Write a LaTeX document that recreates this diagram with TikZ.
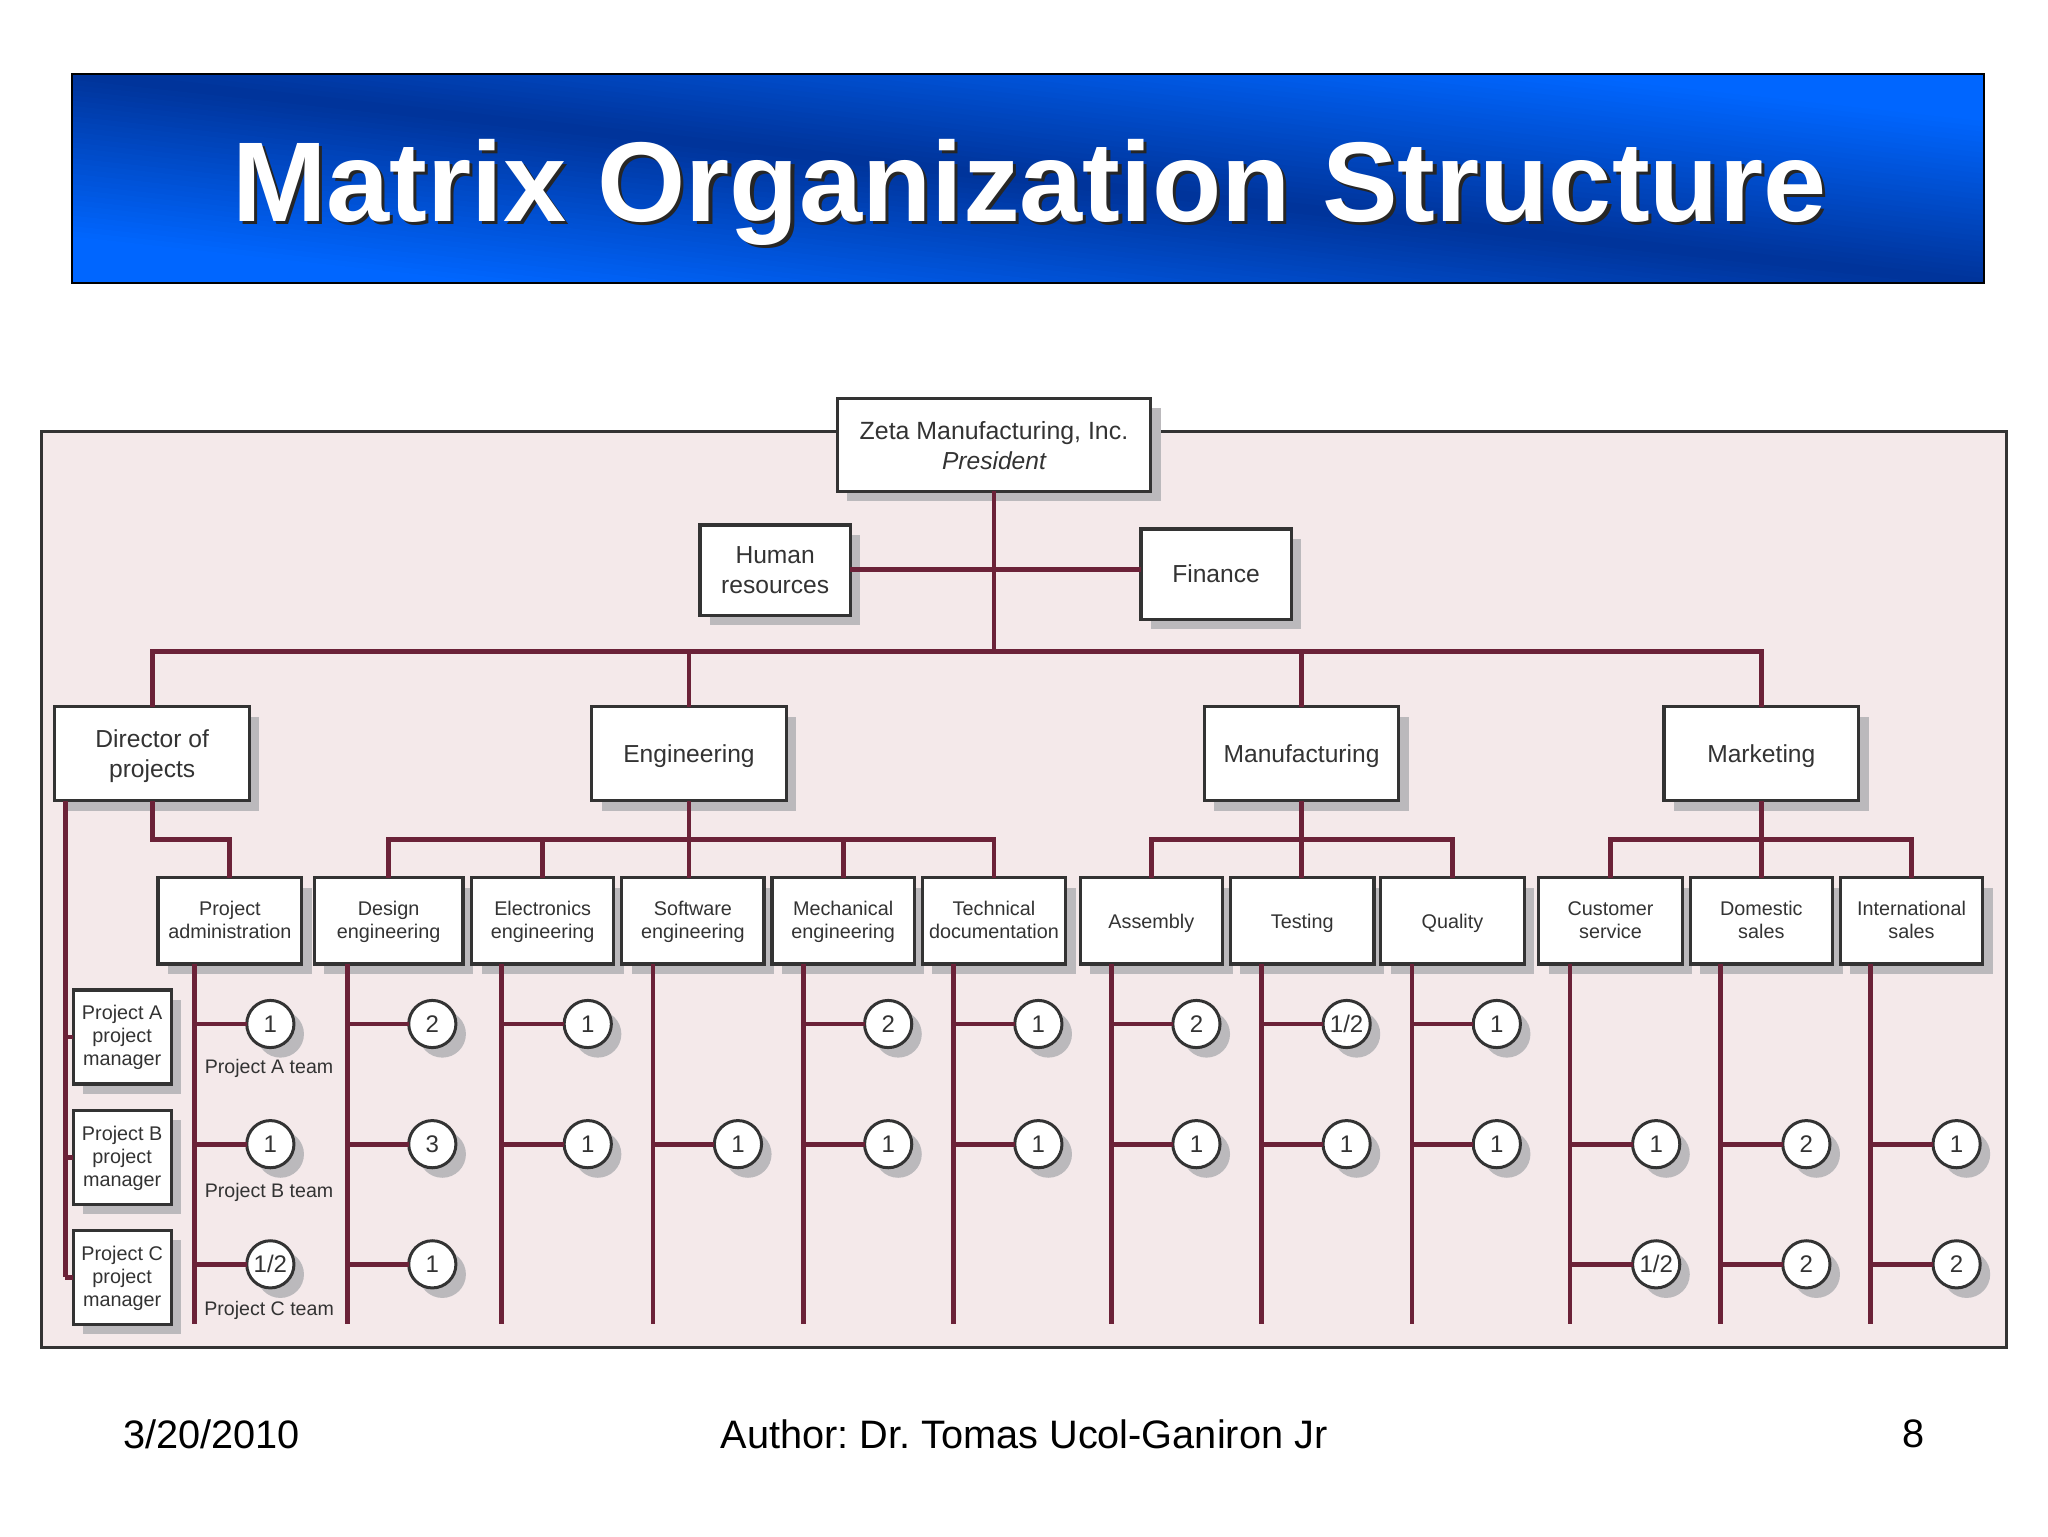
\documentclass[tikz,border=0pt]{standalone}
\usepackage{fontspec}
\setmainfont{Liberation Sans}
\frenchspacing
\usetikzlibrary{shadows,calc}
\definecolor{ln}{HTML}{333333}
\definecolor{tx}{HTML}{333333}
\definecolor{mar}{HTML}{6B2238}
\definecolor{shd}{HTML}{BBB9BC}
\definecolor{pane}{HTML}{F4E9EA}
\definecolor{bdark}{HTML}{003399}
\definecolor{bbright}{HTML}{0066FF}
\newcommand{\txh}{9pt}\newcommand{\txd}{2pt}
\newcommand{\fr}[1]{\rule{0pt}{#1pt}}
\tikzset{
 sh/.style={general shadow={shadow xshift=5pt,shadow yshift=-5pt,fill=shd,opacity=1}},
 box/.style={draw=ln,line width=1.6pt,fill=white,inner sep=0pt,outer sep=0pt,align=center,text=tx,sh,
   execute at begin node={\rule{0pt}{\txh}},execute at end node={\rule[-\txd]{0pt}{0pt}}},
 big/.style={box,font=\fontsize{12.3}{15}\selectfont\renewcommand{\txh}{11.2pt}\renewcommand{\txd}{2.8pt}},
 small/.style={box,font=\fontsize{9.9}{11.8}\selectfont\renewcommand{\txh}{9.9pt}\renewcommand{\txd}{2.2pt}},
 pm/.style={box,font=\fontsize{9.9}{11.5}\selectfont\renewcommand{\txh}{9.2pt}\renewcommand{\txd}{2.2pt}},
 crc/.style={circle,draw=ln,line width=1.5pt,fill=white,inner sep=0pt,outer sep=0pt,minimum size=23.6pt,text=tx,sh,font=\fontsize{12}{14}\selectfont},
 conn/.style={draw=mar,line width=2.4pt},
 team/.style={text=tx,inner sep=0pt,font=\fontsize{9.8}{12}\selectfont},
 foot/.style={text=black,inner sep=0pt,font=\fontsize{19.85}{24}\selectfont},
}
\newcommand{\bx}[7][big]{\node[#1,minimum width={(#5-#3)*0.65306pt},minimum height={(#6-#4)*0.65306pt}] (#2) at ({(#3+#5)/2},{(#4+#6)/2}) {#7};}
\newcommand{\crcl}[5]{\node[crc] (#1) at (#3,#4) {#5};\draw[conn] (#2 |- #1) -- (#1.west);}
\newcommand{\trunk}[3]{\coordinate (#1) at (#3,1014);\draw[conn] (#2.south -| #1) -- (#1);}
\begin{document}
\begin{tikzpicture}[x=0.65306pt,y=-0.65306pt]
\useasboundingbox (0,0) rectangle (1568,1176);
\fill[white] (0,0) rectangle (1568,1176);
% banner: diagonal gradient, dark along the top-left to bottom-right diagonal
\begin{scope}
\clip (55,57) rectangle (1519,217);
\foreach \i in {0,...,80}{
  \pgfmathsetmacro{\dd}{-160+4*\i}
  \pgfmathsetmacro{\pp}{min(100,abs(\dd+2)/125*100)}
  \fill[bbright!\pp!bdark] (55,57+\dd) -- (1519,217+\dd) -- (1519,800) -- (55,800) -- cycle;
}
\end{scope}
\draw[black,line width=1pt] (55,57) rectangle (1519,217);
\node[text=black!85,inner sep=0pt,font=\bfseries\fontsize{56.7}{60}\selectfont] (titleshadow) at (790.5,149.5) {Matrix Organization Structure};
\node[text=white,inner sep=0pt,font=\bfseries\fontsize{56.7}{60}\selectfont] (title) at (788,147) {Matrix Organization Structure};
% frame
\draw[ln,fill=pane,line width=1.5pt] (32,330) rectangle (1536,1032);
% top
\bx{pres}{641}{305}{881}{376}{\fr{12.2}\fontsize{12.45}{14.5}\selectfont Zeta Manufacturing, Inc.\\\itshape President}
\bx{hr}{536}{402}{651}{471}{\fr{11.5}Human\\resources}
\bx{fin}{873.5}{405}{988.5}{474}{Finance}
\bx{dir}{42}{541}{191}{613}{\fr{11.5}Director of\\projects}
\bx{eng}{453}{541}{602}{613}{Engineering}
\bx{man}{922}{541}{1071}{613}{Manufacturing}
\bx{mkt}{1274}{541}{1423}{613}{Marketing}
% third level
\bx[small]{pa}{121}{672}{231}{738}{\fr{8.5}Project\\administration}
\bx[small]{de}{240.5}{672}{354.5}{738}{\fr{8.5}Design\\engineering}
\bx[small]{el}{361}{672}{470}{738}{\fr{8.5}Electronics\\engineering}
\bx[small]{so}{476}{672}{585}{738}{\fr{8.5}Software\\engineering}
\bx[small]{me}{591}{672}{700}{738}{\fr{8.5}Mechanical\\engineering}
\bx[small]{te}{706}{672}{816}{738}{\fr{8.5}Technical\\documentation}
\bx[small]{as}{827}{672}{936}{738}{Assembly}
\bx[small]{ts}{942}{672}{1052}{738}{Testing}
\bx[small]{qu}{1057}{672}{1167}{738}{Quality}
\bx[small]{cu}{1178}{672}{1288}{738}{\fr{8.5}Customer\\service}
\bx[small]{dm}{1294}{672}{1403}{738}{\fr{8.5}Domestic\\sales}
\bx[small]{in}{1409}{672}{1518}{738}{\fr{8.5}International\\sales}
% project managers
\bx[pm]{pma}{56}{758}{131}{830}{\fr{8}Project A\\project\\manager}
\bx[pm]{pmb}{56}{850}{131}{922}{\fr{8}Project B\\project\\manager}
\bx[pm]{pmc}{56}{942}{131}{1014}{\fr{8}Project C\\project\\manager}
% top connectors
\coordinate (jct) at (761,436);
\coordinate (bus) at (761,499);
\draw[conn] (pres.south) -- (bus);
\draw[conn] (hr.east |- jct) -- (fin.west |- jct);
\draw[conn] (dir.north) |- (bus);
\draw[conn] (mkt.north) |- (bus);
\draw[conn] (eng.north) -- (eng.north |- bus);
\draw[conn] (man.north) -- (man.north |- bus);
% director
\coordinate (busd) at (116,643);
\coordinate (tpm) at (50,978);
\draw[conn] (dir.south) |- (pa.north |- busd) -- (pa.north);
\draw[conn] (dir.south -| tpm) -- (tpm);
\draw[conn] (tpm |- pma) -- (pma.west);
\draw[conn] (tpm |- pmb) -- (pmb.west);
\draw[conn] (tpm |- pmc) -- (pmc.west);
% engineering
\coordinate (buse) at (527.5,643);
\draw[conn] (eng.south) -- (buse);
\draw[conn] (de.north) |- (buse);
\draw[conn] (te.north) |- (buse);
\draw[conn] (el.north) -- (el.north |- buse);
\draw[conn] (me.north) -- (me.north |- buse);
\draw[conn] (buse) -- (buse |- so.north);
% manufacturing
\coordinate (busm) at (996.5,643);
\draw[conn] (man.south) -- (man.south |- ts.north);
\draw[conn] (as.north) |- (busm);
\draw[conn] (qu.north) |- (busm);
% marketing
\coordinate (busk) at (1348.5,643);
\draw[conn] (mkt.south) -- (dm.north);
\draw[conn] (cu.north) |- (busk);
\draw[conn] (in.north) |- (busk);
% trunks
\trunk{tpa}{pa}{149}
\trunk{tde}{de}{266}
\trunk{tel}{el}{384}
\trunk{tso}{so}{500}
\trunk{tme}{me}{615}
\trunk{tte}{te}{730}
\trunk{tas}{as}{851}
\trunk{tts}{ts}{966}
\trunk{tqu}{qu}{1081}
\trunk{tcu}{cu}{1202}
\trunk{tdm}{dm}{1317}
\trunk{tin}{in}{1432}
% circles
\crcl{a1}{tpa}{207}{784}{1}
\crcl{a2}{tpa}{207}{876}{1}
\crcl{a3}{tpa}{207}{968}{1/2}
\crcl{b1}{tde}{331}{784}{2}
\crcl{b2}{tde}{331}{876}{3}
\crcl{b3}{tde}{331}{968}{1}
\crcl{c1}{tel}{450}{784}{1}
\crcl{c2}{tel}{450}{876}{1}
\crcl{d2}{tso}{565}{876}{1}
\crcl{e1}{tme}{680}{784}{2}
\crcl{e2}{tme}{680}{876}{1}
\crcl{f1}{tte}{795}{784}{1}
\crcl{f2}{tte}{795}{876}{1}
\crcl{g1}{tas}{916}{784}{2}
\crcl{g2}{tas}{916}{876}{1}
\crcl{h1}{tts}{1031}{784}{1/2}
\crcl{h2}{tts}{1031}{876}{1}
\crcl{i1}{tqu}{1146}{784}{1}
\crcl{i2}{tqu}{1146}{876}{1}
\crcl{j2}{tcu}{1268}{876}{1}
\crcl{j3}{tcu}{1268}{968}{1/2}
\crcl{k2}{tdm}{1383}{876}{2}
\crcl{k3}{tdm}{1383}{968}{2}
\crcl{l2}{tin}{1498}{876}{1}
\crcl{l3}{tin}{1498}{968}{2}
% team labels
\node[team] (ta) at (206,818) {Project A team};
\node[team] (tb) at (206,913) {Project B team};
\node[team] (tc) at (206,1003) {Project C team};
% footer
\node[foot] (fd) at (162,1098) {3/20/2010};
\node[foot] (fa) at (784,1098) {Author: Dr. Tomas Ucol-Ganiron Jr};
\node[foot] (fn) at (1465,1098) {8};
\end{tikzpicture}
\end{document}
